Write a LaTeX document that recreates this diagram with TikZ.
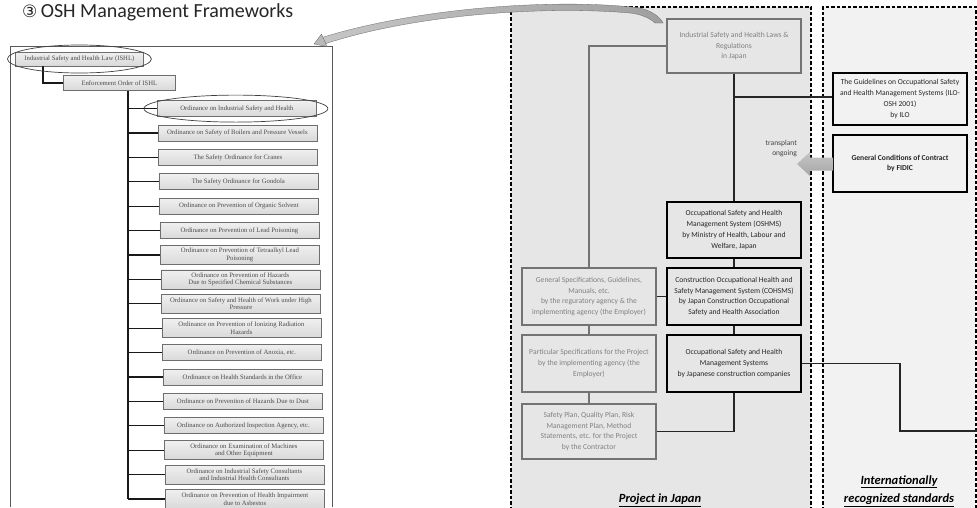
\documentclass[tikz,border=0pt]{standalone}
\usepackage{fontspec}
\setmainfont{Carlito}
\newfontfamily\scanfont{Liberation Serif}
\newfontfamily\symfont{DejaVu Sans}
\usetikzlibrary{calc}
\definecolor{bgA}{HTML}{E6E6E6}
\definecolor{bgB}{HTML}{F2F2F2}
\definecolor{grayline}{HTML}{737373}
\definecolor{graytext}{HTML}{808080}
\definecolor{scanbox}{HTML}{D6D6D6}
\definecolor{scanline}{HTML}{6E6E6E}
\definecolor{arrowgray}{HTML}{8C8C8C}
\tikzset{
  rbox/.style={rectangle, minimum width=134pt, inner sep=0pt, align=center,
    font=\fontsize{7.6}{10.7}\selectfont},
  graybox/.style={rbox, draw=grayline, line width=2pt, fill=bgA, text=graytext},
  blackbox/.style={rbox, draw=black, line width=2.6pt, fill=bgA, text=black!85},
  intlbox/.style={rbox, draw=black, line width=2pt, fill=bgB, text=black!85},
  grayconn/.style={draw=grayline, line width=2pt},
  blackconn/.style={draw=black!85, line width=1.3pt},
  frame/.style={draw=black, line width=2pt, dash pattern=on 3.5pt off 2pt},
  ordbox/.style={rectangle, draw=scanline, line width=0.8pt, top color=gray!12, bottom color=gray!30,
    minimum width=159pt, inner sep=0pt, align=center, text=black!70,
    font=\scanfont\fontsize{6.7}{7.6}\selectfont},
  scanconn/.style={draw=black!90, line width=1.3pt},
  hilite/.style={draw=black!75, line width=0.7pt},
  caption/.style={font=\fontsize{12.5}{15}\selectfont\bfseries\itshape, text=black}
}
\begin{document}
\begin{tikzpicture}[x=1pt,y=-1pt]
\useasboundingbox (0,0) rectangle (977,507);
\fill[white] (0,0) rectangle (977,507);

% ---------- title ----------
\node[anchor=west, font=\fontsize{20}{23}\selectfont, text=black!85, inner sep=0pt] (title) at (22,12)
  {{\symfont\fontsize{17}{20}\selectfont ③}\,OSH Management Frameworks};

% ---------- left scanned chart ----------
\draw[draw=black!65, line width=0.8pt] (10,507) -- (10,46) -- (332,46) -- (332,507);

\node[ordbox, minimum width=128pt, minimum height=14pt, anchor=west] (ishl) at (15,59) {Industrial Safety and Health Law (ISHL)};
\node[ordbox, minimum width=112pt, minimum height=15pt, anchor=west] (enf) at (63,83) {Enforcement Order of ISHL};
\draw[scanconn] ($(ishl.south west)+(28,0)$) coordinate (ishlc) |- (enf.west);

\foreach \k/\txt/\h in {
 0/{Ordinance on Industrial Safety and Health}/16,
 1/{Ordinance on Safety of Boilers and Pressure Vessels}/16,
 2/{The Safety Ordinance for Cranes}/16,
 3/{The Safety Ordinance for Gondola}/16,
 4/{Ordinance on Prevention of Organic Solvent}/16,
 5/{Ordinance on Prevention of Lead Poisoning}/16,
 6/{Ordinance on Prevention of Tetraalkyl Lead\\Poisoning}/19,
 7/{Ordinance on Prevention of Hazards\\Due to Specified Chemical Substances}/19,
 8/{Ordinance on Safety and Health of Work under High\\Pressure}/19,
 9/{Ordinance on Prevention of Ionizing Radiation\\Hazards}/19,
 10/{Ordinance on Prevention of Anoxia, etc.}/16,
 11/{Ordinance on Health Standards in the Office}/16,
 12/{Ordinance on Prevention of Hazards Due to Dust}/16,
 13/{Ordinance on Authorized Inspection Agency, etc.}/16,
 14/{Ordinance on Examination of Machines\\and Other Equipment}/19,
 15/{Ordinance on Industrial Safety Consultants\\and Industrial Health Consultants}/19,
 16/{Ordinance on Prevention of Health Impairment\\due to Asbestos}/19}
{
  \node[ordbox, minimum height=\h pt, anchor=west] (o\k) at ({157+0.5*\k},{108.6+24.4*\k}) {\txt};
}
\coordinate (trunk) at ($(enf.south west)+(65,0)$);
\draw[scanconn] (trunk) -- (trunk |- o16.west);
\foreach \k in {0,...,16}{
  \draw[scanconn] (trunk |- o\k.west) -- (o\k.west);
}
\draw[hilite] (ishl.center) ellipse [x radius=72pt, y radius=14pt];
\draw[hilite] ($(o0.center)+(-1,0)$) ellipse [x radius=92pt, y radius=13.5pt];

% ---------- right panel frames ----------
\fill[bgA] (511,6.5) rectangle (811,510);
\fill[bgB] (823,6.5) rectangle (976,510);
\draw[frame] (511,510) -- (511,6.5) -- (811,6.5) -- (811,510);
\draw[frame] (823,510) -- (823,6.5) -- (976,6.5) -- (976,510);

% ---------- right panel boxes ----------
\node[graybox, minimum height=54pt] (laws) at (734,46)
  {Industrial Safety and Health Laws \&\\Regulations\\in Japan};
\node[intlbox, minimum height=52pt] (ilo) at (900,99)
  {The Guidelines on Occupational Safety\\and Health Management Systems (ILO-\\OSH 2001)\\by ILO};
\node[intlbox, line width=2.8pt, minimum height=57pt, font=\fontsize{7.6}{10.7}\selectfont\bfseries] (fidic) at (900,163.5)
  {General Conditions of Contract\\by FIDIC};
\node[blackbox, minimum height=56pt] (oshms) at (734,230)
  {Occupational Safety and Health\\Management System (OSHMS)\\by Ministry of Health, Labour and\\Welfare, Japan};
\node[blackbox, minimum height=57pt] (cohsms) at (734,296.5)
  {Construction Occupational Health and\\Safety Management System (COHSMS)\\by Japan Construction Occupational\\Safety and Health Association};
\node[graybox, minimum height=57pt] (genspec) at (589,296.5)
  {General Specifications, Guidelines,\\Manuals, etc.\\by the reguratory agency \& the\\implementing agency (the Employer)};
\node[graybox, minimum height=57pt] (partspec) at (589,363.5)
  {Particular Specifications for the Project\\by the implementing agency (the\\Employer)};
\node[blackbox, minimum height=57pt] (jcomp) at (734,363.5)
  {Occupational Safety and Health\\Management Systems\\by Japanese construction companies};
\node[graybox, minimum height=55pt] (plan) at (589,431.5)
  {Safety Plan, Quality Plan, Risk\\Management Plan, Method\\Statements, etc. for the Project\\by the Contractor};

% ---------- connectors ----------
\draw[grayconn] (laws.west) -| (genspec.north);
\draw[grayconn] (genspec.south) -- (partspec.north);
\draw[grayconn] (partspec.south) -- (plan.north);
\draw[blackconn] (laws.south) -- (oshms.north);
\draw[blackconn] (laws.south |- 0,97) coordinate (iloj) -- (ilo.west |- iloj);
\draw[blackconn] (oshms.south) -- (cohsms.north);
\draw[blackconn] (genspec.east) -- (cohsms.west |- genspec.east);
\draw[blackconn] (cohsms.south) -- (jcomp.north);
\draw[blackconn] (jcomp.south) |- (plan.east);
\coordinate (rightend) at (977,431);
\draw[blackconn] (jcomp.east) -| (900,431) -- (rightend);

% ---------- transplant arrow ----------
\shade[top color=gray!45, bottom color=gray!70] (797,164) -- (810,152) -- (810,157.5) -- (833,157.5) -- (833,170.5) -- (810,170.5) -- (810,176) -- cycle;
\node[anchor=east, font=\fontsize{7.5}{10}\selectfont, text=black!75, align=right, inner sep=0pt] (tlabel) at (797,149)
  {transplant\\ongoing};

% ---------- curved arrow ----------
\shade[left color=gray!45, right color=gray!75, draw=gray!80!black, line width=0.3pt]
  (322,37.5) .. controls (420,7) and (560,-2) .. (640,8) .. controls (652,11) and (660,17) .. (663,23)
  -- (655,23) .. controls (650,18) and (640,14) .. (630,13) .. controls (550,6) and (420,13) .. (326,43.5) -- cycle;
\fill[gray!55, draw=gray!80!black, line width=0.3pt] (314,44) -- (321.5,34) -- (327,46.5) -- cycle;

% ---------- captions ----------
\node[caption] (cap1) at (660,500) {\underline{Project in Japan}};
\node[caption, align=center, font=\fontsize{12.5}{18.5}\selectfont\bfseries\itshape] (cap2) at (899,491)
  {\underline{Internationally}\\\underline{recognized standards}};
\end{tikzpicture}
\end{document}
